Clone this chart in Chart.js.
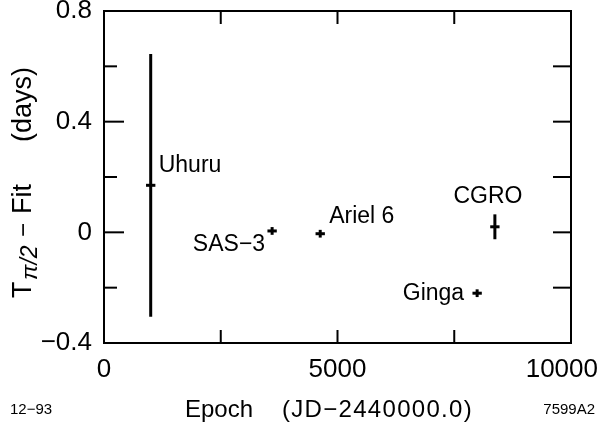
<!DOCTYPE html>
<html>
<head>
<meta charset="utf-8">
<script src="https://cdn.jsdelivr.net/npm/chart.js@4.4.1/dist/chart.umd.min.js"></script>
<style>
  body { margin: 0; background: #fff; }
  #wrap { width: 600px; height: 425px; }
</style>
</head>
<body>
<div id="wrap"><canvas id="chart"></canvas></div>
<script>
const names = ['Uhuru', 'SAS\u22123', 'Ariel 6', 'Ginga', 'CGRO'];
const epochs = [1000, 3600, 4630, 7990, 8370];
const residuals = [0.17, 0.005, -0.005, -0.22, 0.02];
const epochErr = [100, 100, 100, 100, 100];
const residualErr = [0.475, 0.014, 0.014, 0.014, 0.045];

const xTickValues = [0, 2500, 5000, 7500, 10000];
const xTickLabels = ['0', '', '5000', '', '10000'];
const yTickValues = [-0.4, -0.2, 0, 0.2, 0.4, 0.6, 0.8];

const FONT = 'Liberation Sans, Arial, Helvetica, sans-serif';

// where each name sits next to its point
const labelPlacement = [
    { dx: 8, dy: -20, align: 'left' },
    { dx: -7, dy: 14, align: 'right' },
    { dx: 9, dy: -17, align: 'left' },
    { dx: -13, dy: 0, align: 'right' },
    { dx: -7, dy: -30, align: 'center' }
];

function fmtY(v) {
    if (Math.abs(v) < 1e-9) return '0';
    const s = v.toFixed(1);
    return v < 0 ? '\u2212' + s.slice(1) : s;
}

const errorBarPlugin = {
    id: 'errorBars',
    afterDatasetsDraw(chart) {
        const { ctx, chartArea: a, scales: { x, y } } = chart;
        ctx.save();
        ctx.strokeStyle = '#000';
        ctx.fillStyle = '#000';
        ctx.lineCap = 'butt';

        const line = (x1, y1, x2, y2) => {
            ctx.beginPath();
            ctx.moveTo(x1, y1);
            ctx.lineTo(x2, y2);
            ctx.stroke();
        };

        // frame
        ctx.lineWidth = 2;
        ctx.strokeRect(a.left, a.top, a.width, a.height);

        // inward ticks on all four sides
        xTickValues.slice(1, -1).forEach(v => {
            const px = x.getPixelForValue(v);
            line(px, a.bottom, px, a.bottom - 13);
            line(px, a.top, px, a.top + 13);
        });
        yTickValues.slice(1, -1).forEach(v => {
            const py = y.getPixelForValue(v);
            const major = Math.round(v * 10) % 4 === 0;
            line(a.left, py, a.left + (major ? 20 : 13), py);
            line(a.right, py, a.right - 18, py);
        });

        // x tick labels (last one pulled in so it stays on the page)
        ctx.font = '26px ' + FONT;
        ctx.textBaseline = 'alphabetic';
        ctx.textAlign = 'center';
        xTickValues.forEach((v, i) => {
            const t = xTickLabels[i];
            if (!t) return;
            const w = ctx.measureText(t).width;
            let cx = x.getPixelForValue(v);
            cx = Math.min(cx, chart.width - 2 - w / 2);
            ctx.fillText(t, cx, 377);
        });

        // error crosses
        ctx.lineWidth = 3;
        epochs.forEach((e, i) => {
            const px = x.getPixelForValue(e);
            const py = y.getPixelForValue(residuals[i]);
            line(x.getPixelForValue(e - epochErr[i]), py, x.getPixelForValue(e + epochErr[i]), py);
            line(px, y.getPixelForValue(residuals[i] + residualErr[i]), px, y.getPixelForValue(residuals[i] - residualErr[i]));
        });

        // point names
        ctx.font = '23px ' + FONT;
        ctx.textBaseline = 'middle';
        names.forEach((n, i) => {
            const p = labelPlacement[i];
            ctx.textAlign = p.align;
            ctx.fillText(n, x.getPixelForValue(epochs[i]) + p.dx, y.getPixelForValue(residuals[i]) + p.dy);
        });

        // x axis title
        ctx.textAlign = 'left';
        ctx.textBaseline = 'alphabetic';
        ctx.font = '24px ' + FONT;
        ctx.fillText('Epoch', 185, 417);
        ctx.letterSpacing = '1.3px';
        ctx.fillText('(JD\u22122440000.0)', 282, 417);
        ctx.letterSpacing = '0px';

        // y axis title with subscript, read bottom to top
        ctx.save();
        ctx.translate(31, 298);
        ctx.rotate(-Math.PI / 2);
        ctx.textAlign = 'left';
        ctx.textBaseline = 'alphabetic';
        const parts = [
            { t: 'T', font: '27px ', at: 0, dy: 0 },
            { t: '\u03c0/2', font: 'italic 23px ', at: 18, dy: 6 },
            { t: '\u2212', font: '24px ', at: 61, dy: 0 },
            { t: 'Fit', font: '27px ', at: 84, dy: 0 },
            { t: '(days)', font: '27px ', at: 156, dy: 0 }
        ];
        parts.forEach(p => {
            ctx.font = p.font + FONT;
            ctx.fillText(p.t, p.at, p.dy);
        });
        ctx.restore();

        // corner notes
        ctx.font = '15px ' + FONT;
        ctx.textAlign = 'left';
        ctx.textBaseline = 'middle';
        ctx.fillText('12\u221293', 10, 410);
        ctx.textAlign = 'right';
        ctx.fillText('7599A2', 595, 410);

        ctx.restore();
    }
};

new Chart(document.getElementById('chart'), {
    type: 'scatter',
    data: {
        datasets: [{
            data: epochs.map((e, i) => ({ x: e, y: residuals[i] })),
            pointRadius: 0,
            pointHoverRadius: 0
        }]
    },
    options: {
        responsive: true,
        maintainAspectRatio: false,
        animation: false,
        layout: { padding: { top: 11, right: 29, left: 0, bottom: 0 } },
        plugins: {
            legend: { display: false },
            tooltip: { enabled: false }
        },
        scales: {
            x: {
                type: 'linear',
                min: 0,
                max: 10000,
                afterBuildTicks: s => { s.ticks = xTickValues.map(v => ({ value: v })); },
                ticks: { display: false },
                grid: { display: false, drawTicks: false },
                border: { display: false },
                afterFit: s => {
                    s.height = 82;
                    s.paddingLeft = 0; s.paddingRight = 0;
                }
            },
            y: {
                type: 'linear',
                min: -0.4,
                max: 0.8,
                afterBuildTicks: s => { s.ticks = yTickValues.map(v => ({ value: v })); },
                ticks: {
                    color: '#000',
                    font: { family: FONT, size: 26 },
                    padding: 12,
                    callback: v => (Math.round(v * 10) % 4 === 0 ? fmtY(v) : '')
                },
                grid: { display: false, drawTicks: false },
                border: { display: false },
                afterFit: s => {
                    s.width = 104;
                    s.paddingTop = 0; s.paddingBottom = 0;
                }
            }
        }
    },
    plugins: [errorBarPlugin]
});
</script>
</body>
</html>
